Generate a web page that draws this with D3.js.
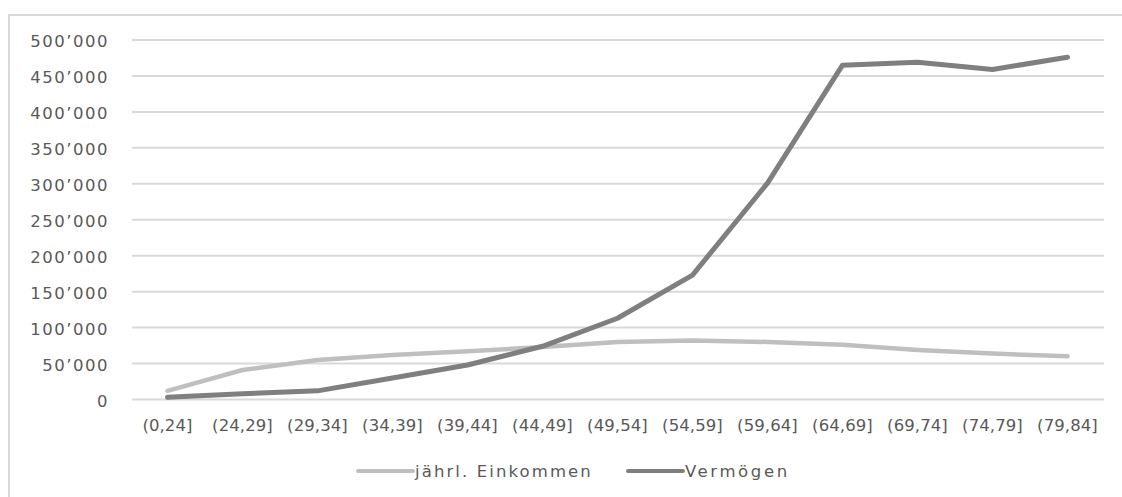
<!DOCTYPE html>
<html><head><meta charset="utf-8">
<script src="https://cdn.jsdelivr.net/npm/d3@7"></script>
<style>body{margin:0;background:#fff}svg{display:block}</style>
</head><body>
<svg id="c" width="1122" height="497"></svg>
<script>
const categories = ["(0,24]","(24,29]","(29,34]","(34,39]","(39,44]","(44,49]","(49,54]","(54,59]","(59,64]","(64,69]","(69,74]","(74,79]","(79,84]"];
const einkommen = [12000,41000,55000,62000,67000,73000,80000,82000,80000,76000,69000,64000,60000];
const vermoegen = [3000,8000,12000,30000,48000,74000,113000,173000,301000,465000,469000,459000,476000];
const yTicks = [0,50000,100000,150000,200000,250000,300000,350000,400000,450000,500000];
const seriesNames = ["jährl. Einkommen","Vermögen"];

const svg = d3.select("#c");
const font = "'DejaVu Sans', Verdana, sans-serif";
const txt = "#595959";

svg.append("rect").attr("x",9).attr("y",15).attr("width",1130).attr("height",500)
  .attr("fill","none").attr("stroke","#d9d9d9").attr("stroke-width",2);

const x = d3.scaleBand().domain(categories).range([130,1105]);
const y = d3.scaleLinear().domain([0,500000]).range([399.5,40]);
const cx = d => x(d) + x.bandwidth()/2;

// gridlines
svg.append("g").selectAll("line").data(yTicks).join("line")
  .attr("x1",132).attr("x2",1104)
  .attr("y1",d=>y(d)).attr("y2",d=>y(d))
  .attr("stroke","#d9d9d9").attr("stroke-width",2);

// y axis labels
const fmt = d => d3.format(",")(d).replace(/,/g,"’");
const yAxis = svg.append("g").attr("transform","translate(118,0)")
  .call(d3.axisLeft(y).tickValues(yTicks).tickFormat(fmt).tickSize(0).tickPadding(9));
yAxis.select(".domain").remove();
yAxis.selectAll("text").attr("fill",txt).style("font-family",font).style("font-size","16.5px")
  .style("letter-spacing","1.5px").attr("dy","0.4em");

// x axis labels
const xAxis = svg.append("g").attr("transform","translate(0,399.5)")
  .call(d3.axisBottom(x).tickSize(0).tickPadding(20));
xAxis.select(".domain").remove();
xAxis.selectAll("text").attr("fill",txt).style("font-family",font).style("font-size","16.5px")
  .style("letter-spacing","0.1px");

// lines
const line = d3.line().x((d,i)=>cx(categories[i])).y(d=>y(d));
svg.append("path").datum(einkommen).attr("d",line).attr("fill","none")
  .attr("stroke","#bfbfbf").attr("stroke-width",4.5).attr("stroke-linejoin","round").attr("stroke-linecap","round");
svg.append("path").datum(vermoegen).attr("d",line).attr("fill","none")
  .attr("stroke","#7f7f7f").attr("stroke-width",5).attr("stroke-linejoin","round").attr("stroke-linecap","round");

// legend
const legend = [{name:seriesNames[0],color:"#bfbfbf",x:358,ls:2.1},{name:seriesNames[1],color:"#7f7f7f",x:628,ls:2.6}];
const lg = svg.append("g").selectAll("g").data(legend).join("g")
  .attr("transform",d=>`translate(${d.x},471)`);
lg.append("line").attr("x1",0).attr("x2",55).attr("y1",0).attr("y2",0)
  .attr("stroke",d=>d.color).attr("stroke-width",4).attr("stroke-linecap","round");
lg.append("text").attr("x",57).attr("dy","0.35em").text(d=>d.name)
  .attr("fill",txt).style("font-family",font).style("font-size","16.5px").style("letter-spacing",d=>d.ls+"px");
</script>
</body></html>
